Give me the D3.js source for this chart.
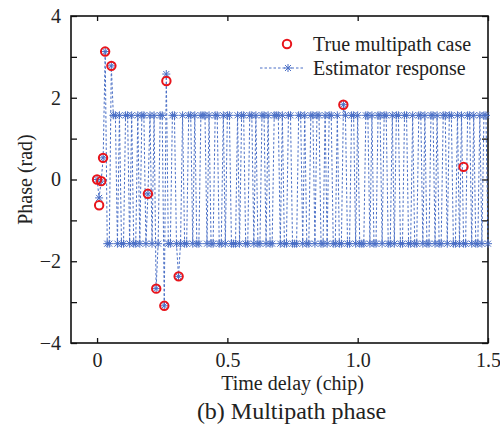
<!DOCTYPE html>
<html>
<head>
<meta charset="utf-8">
<script src="https://cdn.jsdelivr.net/npm/d3@7"></script>
<style>
  body { margin: 0; background: #fff; }
  svg { display: block; font-family: "Liberation Serif", "Times New Roman", serif; }
</style>
</head>
<body>
<div id="chart"></div>
<script>
// true multipath delays (chip) and phases (rad)
var trueDelay = [0, 0.008, 0.016, 0.023, 0.031, 0.055, 0.195, 0.227, 0.258, 0.266, 0.313, 0.945, 1.406];
var truePhase = [0, -0.63, -0.04, 0.53, 3.13, 2.78, -0.35, -2.67, -3.09, 2.41, -2.37, 1.83, 0.31];

// estimator output, one sample every 1/128 chip from 0 to 1.5
var estStep = 1 / 128;
var estPhase = [
  0, -0.45, -0.04, 0.53, 3.13, -1.57, -1.57, 2.78,
  1.57, 1.57, -1.57, 1.57, -1.57, -1.57, 1.57, 1.57, -1.57, 1.57,
  -1.57, -1.57, 1.57, -1.57, 1.57, 1.57, -1.57, -0.35, 1.57, -1.57,
  1.57, -2.67, -1.57, 1.57, 1.57, -3.09, 2.58, -1.57, -1.57, 1.57,
  1.57, -1.57, -2.37, -1.57, 1.57, -1.57, -1.57, 1.57, 1.57, -1.57,
  1.57, -1.57, -1.57, 1.57, 1.57, 1.57, -1.57, 1.57, -1.57, -1.57,
  1.57, 1.57, -1.57, -1.57, 1.57, -1.57, 1.57, 1.57, -1.57, -1.57,
  -1.57, 1.57, -1.57, 1.57, 1.57, -1.57, -1.57, 1.57, 1.57, -1.57,
  1.57, -1.57, -1.57, 1.57, 1.57, -1.57, 1.57, -1.57, -1.57, 1.57,
  1.57, 1.57, -1.57, 1.57, -1.57, -1.57, 1.57, 1.57, -1.57, -1.57,
  -1.57, 1.57, 1.57, -1.57, 1.57, -1.57, -1.57, 1.57, 1.57, -1.57,
  1.57, 1.57, -1.57, -1.57, 1.57, -1.57, 1.57, 1.57, -1.57, -1.57,
  1.57, -1.57, -1.57, 1.83, 1.57, -1.57, -1.57, 1.57, 1.57, -1.57,
  1.57, -1.57, -1.57, -1.57, 1.57, 1.57, -1.57, 1.57, -1.57, -1.57,
  1.57, 1.57, -1.57, 1.57, 1.57, -1.57, -1.57, 1.57, -1.57, 1.57,
  1.57, -1.57, -1.57, 1.57, 1.57, -1.57, -1.57, 1.57, -1.57, -1.57,
  1.57, 1.57, -1.57, 1.57, -1.57, -1.57, 1.57, 1.57, -1.57, 1.57,
  -1.57, -1.57, 1.57, 1.57, -1.57, 1.57, 1.57, -1.57, -1.57, 1.57,
  -1.57, 1.57, -1.57, -1.57, 1.57, 1.57, -1.57, 1.57, -1.57, -1.57,
  1.57, -1.57, 1.57, 1.57, -1.57
];

var xTicks = [0, 0.5, 1.0, 1.5];
var yTicks = [-4, -2, 0, 2, 4];
var yMinor = [-3, -1, 1, 3];

var width = 500, height = 429;
var margin = {top: 16, right: 12, bottom: 86, left: 71};

var svg = d3.select("#chart")
  .append("svg")
    .attr("width", width)
    .attr("height", height);

var x = d3.scaleLinear()
  .domain([-0.1, 1.5])
  .range([margin.left, width - margin.right]);

var y = d3.scaleLinear()
  .domain([-4, 4])
  .range([height - margin.bottom, margin.top]);

var blue = "#4a6fc6", red = "#e8141b";

// axes, ticks pointing inward
svg.append("g")
  .attr("transform", "translate(0," + y(-4) + ")")
  .call(d3.axisBottom(x).tickValues(xTicks).tickSizeInner(-5).tickSizeOuter(0).tickPadding(10)
        .tickFormat(function(d){ return d === 0 ? "0" : d3.format(".1f")(d); }));
svg.append("g")
  .attr("transform", "translate(0," + y(4) + ")")
  .call(d3.axisTop(x).tickValues(xTicks).tickSizeInner(-5).tickSizeOuter(0).tickFormat(""));
svg.append("g")
  .attr("transform", "translate(" + x(-0.1) + ",0)")
  .call(d3.axisLeft(y).tickValues(yTicks).tickSizeInner(-6).tickSizeOuter(0).tickPadding(10)
        .tickFormat(function(d){ return d < 0 ? "\u2212" + Math.abs(d) : d; }));
svg.append("g")
  .attr("transform", "translate(" + x(-0.1) + ",0)")
  .call(d3.axisLeft(y).tickValues(yMinor).tickSizeInner(-6).tickSizeOuter(0).tickFormat(""));
svg.append("g")
  .attr("transform", "translate(" + x(1.5) + ",0)")
  .call(d3.axisRight(y).tickValues(yTicks.concat(yMinor)).tickSizeInner(-6).tickSizeOuter(0).tickFormat(""));

svg.selectAll(".domain").remove();
svg.selectAll(".tick line").attr("stroke", "#111").attr("stroke-width", 1.3);
svg.selectAll(".tick text")
  .attr("fill", "#222")
  .style("font-size", "20px")
  .style("font-family", "Liberation Serif, serif");

// frame
svg.append("rect")
  .attr("x", x(-0.1))
  .attr("y", y(4))
  .attr("width", x(1.5) - x(-0.1))
  .attr("height", y(-4) - y(4))
  .attr("fill", "none")
  .attr("stroke", "#111")
  .attr("stroke-width", 1.6);

// star marker (asterisk)
var starPath = "M-4,0L4,0M0,-4L0,4M-3,-3L3,3M-3,3L3,-3";

var estData = estPhase.map(function(v, i){ return {d: i * estStep, p: v}; });

var line = d3.line()
  .x(function(d){ return x(d.d); })
  .y(function(d){ return y(d.p); });

svg.append("path")
  .datum(estData)
  .attr("d", line)
  .attr("fill", "none")
  .attr("stroke", blue)
  .attr("stroke-width", 1)
  .attr("stroke-dasharray", "2.5,2");

svg.append("g")
  .selectAll("path")
  .data(estData)
  .enter()
  .append("path")
    .attr("transform", function(d){ return "translate(" + x(d.d) + "," + y(d.p) + ")"; })
    .attr("d", starPath)
    .attr("stroke", blue)
    .attr("stroke-width", 1);

// true multipath circles
svg.append("g")
  .selectAll("circle")
  .data(trueDelay)
  .enter()
  .append("circle")
    .attr("cx", function(d){ return x(d); })
    .attr("cy", function(d, i){ return y(truePhase[i]); })
    .attr("r", 4.2)
    .attr("fill", "none")
    .attr("stroke", red)
    .attr("stroke-width", 2);

// legend
var legend = svg.append("g").attr("transform", "translate(260,0)");
legend.append("circle")
  .attr("cx", 27).attr("cy", 44).attr("r", 4.2)
  .attr("fill", "none").attr("stroke", red).attr("stroke-width", 2);
legend.append("text")
  .attr("x", 53).attr("y", 44).attr("dy", "0.35em")
  .style("font-size", "20px").attr("fill", "#222")
  .text("True multipath case");
legend.append("line")
  .attr("x1", 0).attr("x2", 44).attr("y1", 68).attr("y2", 68)
  .attr("stroke", blue).attr("stroke-width", 1).attr("stroke-dasharray", "2.5,2");
legend.append("path")
  .attr("transform", "translate(28,68)")
  .attr("d", starPath)
  .attr("stroke", blue).attr("stroke-width", 1);
legend.append("text")
  .attr("x", 53).attr("y", 68).attr("dy", "0.35em")
  .style("font-size", "20px").attr("fill", "#222")
  .text("Estimator response");

// axis titles and caption
svg.append("text")
  .attr("x", x(0.75)).attr("y", 390)
  .attr("text-anchor", "middle")
  .style("font-size", "20px").attr("fill", "#222")
  .text("Time delay (chip)");

svg.append("text")
  .attr("transform", "translate(25," + y(0) + ") rotate(-90)")
  .attr("text-anchor", "middle")
  .attr("dy", "0.35em")
  .style("font-size", "20px").attr("fill", "#222")
  .text("Phase (rad)");

svg.append("text")
  .attr("x", x(0.75) - 1).attr("y", 419)
  .attr("text-anchor", "middle")
  .style("font-size", "24px").attr("fill", "#222")
  .text("(b) Multipath phase");
</script>
</body>
</html>
